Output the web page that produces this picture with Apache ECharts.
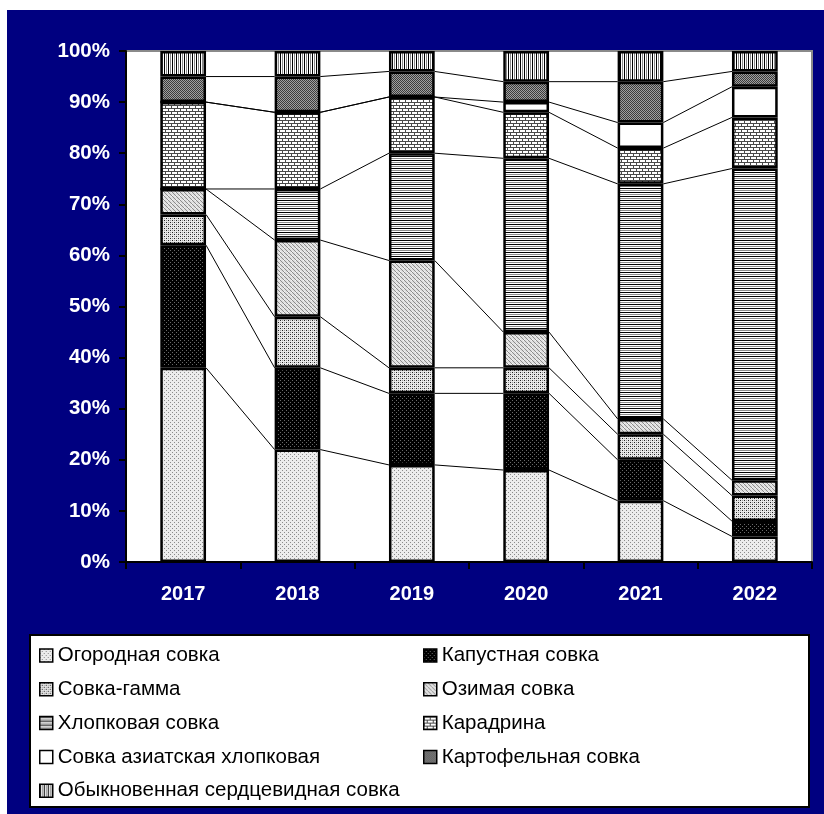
<!DOCTYPE html>
<html><head><meta charset="utf-8">
<script src="https://cdn.jsdelivr.net/npm/echarts@6/dist/echarts.min.js"></script>
<style>
html,body{margin:0;padding:0;background:#fff;}
#bg{position:absolute;left:7px;top:10px;width:817px;height:804px;background:#000080;}
#c{position:absolute;left:0;top:0;width:824px;height:814px;}
</style>
</head><body><div id="bg"></div><div id="c"></div><script>
// ---- data ----
const categories = ['2017', '2018', '2019', '2020', '2021', '2022'];
const ogorodnaya   = [38, 22, 19, 18, 12, 5];
const kapustnaya   = [24, 16, 14, 15, 8, 3];
const sovkaGamma   = [6, 10, 5, 5, 5, 5];
const ozimaya      = [5, 15, 21, 7, 3, 3];
const hlopkovaya   = [0, 10, 21, 34, 46, 61];
const karadrina    = [17, 15, 11, 9, 7, 10];
const aziatskaya   = [0, 0, 0, 2, 5, 6];
const kartofelnaya = [5, 7, 5, 4, 8, 3];
const obyknovennaya = [5, 5, 4, 6, 6, 4];
const seriesNames = ['Огородная совка', 'Капустная совка', 'Совка-гамма', 'Озимая совка',
  'Хлопковая совка', 'Карадрина', 'Совка азиатская хлопковая', 'Картофельная совка',
  'Обыкновенная сердцевидная совка'];
const seriesValues = [ogorodnaya, kapustnaya, sovkaGamma, ozimaya, hlopkovaya, karadrina,
  aziatskaya, kartofelnaya, obyknovennaya];
const yTickSuffix = '%';

// ---- patterns (styles) ----
function pat(rows, map) {
  const h = rows.length, w = rows[0].length;
  const c = document.createElement('canvas');
  c.width = w; c.height = h;
  const g = c.getContext('2d');
  for (let y = 0; y < h; y++) for (let x = 0; x < w; x++) {
    g.fillStyle = map[rows[y][x]]; g.fillRect(x, y, 1, 1);
  }
  return { image: c, repeat: 'repeat' };
}
const patterns = [
  pat(['gwww', 'wwww', 'wwgw', 'wwww'], { g: '#8a8a8a', w: '#ececec' }),
  pat(['gkkk', 'kkkk', 'kkgk', 'kkkk'], { g: '#6a6a6a', k: '#000000' }),
  pat(['kwgw', 'wwww', 'gwkw', 'wwww'], { k: '#202020', g: '#9a9a9a', w: '#e8e8e8' }),
  pat(['gllw', 'lgll', 'llgl', 'wllg'], { g: '#8c8c8c', l: '#e0e0e0', w: '#f4f4f4' }),
  pat(['k', 'w', 'g', 'w'], { k: '#000000', w: '#ffffff', g: '#8c8c8c' }),
  pat(['kkkkkk', 'kwwwww', 'kwwwww', 'kkkkkk', 'wwwkww', 'wwwkww'], { k: '#4a4a4a', w: '#ffffff' }),
  '#ffffff',
  pat(['dgdg', 'gdgd', 'dgdg', 'gdgd'], { d: '#3c3c3c', g: '#a0a0a0' }),
  pat(['kwgw'], { k: '#000000', w: '#ffffff', g: '#8a8a8a' })
];

// cumulative tops for series lines
const cum = [];
seriesValues.forEach((arr, k) => {
  cum.push(arr.map((v, i) => v + (k > 0 ? cum[k - 1][i] : 0)));
});
const lineData = [];
for (let k = 0; k < seriesValues.length - 1; k++) {
  for (let i = 0; i < categories.length - 1; i++) {
    lineData.push([i, cum[k][i], cum[k][i + 1]]);
  }
}

const font = "'Liberation Sans', Arial, sans-serif";
const chart = echarts.init(document.getElementById('c'), null, { renderer: 'canvas' });

const series = seriesNames.map((name, k) => ({
  name, type: 'bar', stack: 'total', barWidth: '40%',
  data: seriesValues[k],
  itemStyle: { color: patterns[k], borderColor: '#000', borderWidth: 2.5 },
  emphasis: { disabled: true },
  z: 3
}));
series.push({
  type: 'custom', silent: true, z: 2,
  encode: { x: 0, y: 1 },
  data: lineData,
  renderItem: function (params, api) {
    const i = api.value(0);
    const p1 = api.coord([i, api.value(1)]);
    const p2 = api.coord([i + 1, api.value(2)]);
    const bw = api.size([1, 0])[0] * 0.4;
    return {
      type: 'line',
      shape: { x1: p1[0] + bw / 2, y1: p1[1], x2: p2[0] - bw / 2, y2: p2[1] },
      style: { stroke: '#000', lineWidth: 1 }
    };
  }
});

const legendText = { fontSize: 20.5, color: '#000', fontFamily: font, lineHeight: 20 };
chart.setOption({
  animation: false,
  backgroundColor: 'transparent',
  grid: { left: 126, top: 51, width: 686, height: 511, show: true, backgroundColor: '#fff',
    borderColor: '#8a8a8a', borderWidth: 2 },
  xAxis: {
    type: 'category', data: categories,
    axisLine: { lineStyle: { color: '#000', width: 2 } },
    axisTick: { show: true, length: 7, lineStyle: { color: '#000', width: 2 } },
    axisLabel: { color: '#fff', fontWeight: 'bold', fontSize: 20, fontFamily: font, margin: 22 }
  },
  yAxis: {
    type: 'value', min: 0, max: 100, interval: 10,
    axisLine: { show: true, lineStyle: { color: '#000', width: 2 } },
    axisTick: { show: true, length: 7, lineStyle: { color: '#000', width: 2 } },
    splitLine: { show: false },
    axisLabel: { color: '#fff', fontWeight: 'bold', fontSize: 20.5, fontFamily: font, margin: 16,
      formatter: v => v + yTickSuffix }
  },
  legend: [
    { data: [0, 2, 4, 6, 8].map(k => seriesNames[k]), orient: 'vertical', left: 39, top: 645,
      padding: 0, itemWidth: 13, itemHeight: 13, itemGap: 12.8, icon: 'rect', selectedMode: false,
      itemStyle: { borderWidth: 1.5, borderColor: '#000' }, textStyle: legendText },
    { data: [1, 3, 5, 7].map(k => seriesNames[k]), orient: 'vertical', left: 423, top: 645,
      padding: 0, itemWidth: 13, itemHeight: 13, itemGap: 12.8, icon: 'rect', selectedMode: false,
      itemStyle: { borderWidth: 1.5, borderColor: '#000' }, textStyle: legendText }
  ],
  graphic: [
    { type: 'rect', silent: true, shape: { x: 30, y: 635, width: 779, height: 172 },
      style: { fill: '#fff', stroke: '#000', lineWidth: 2 } }
  ],
  series
});
</script></body></html>
